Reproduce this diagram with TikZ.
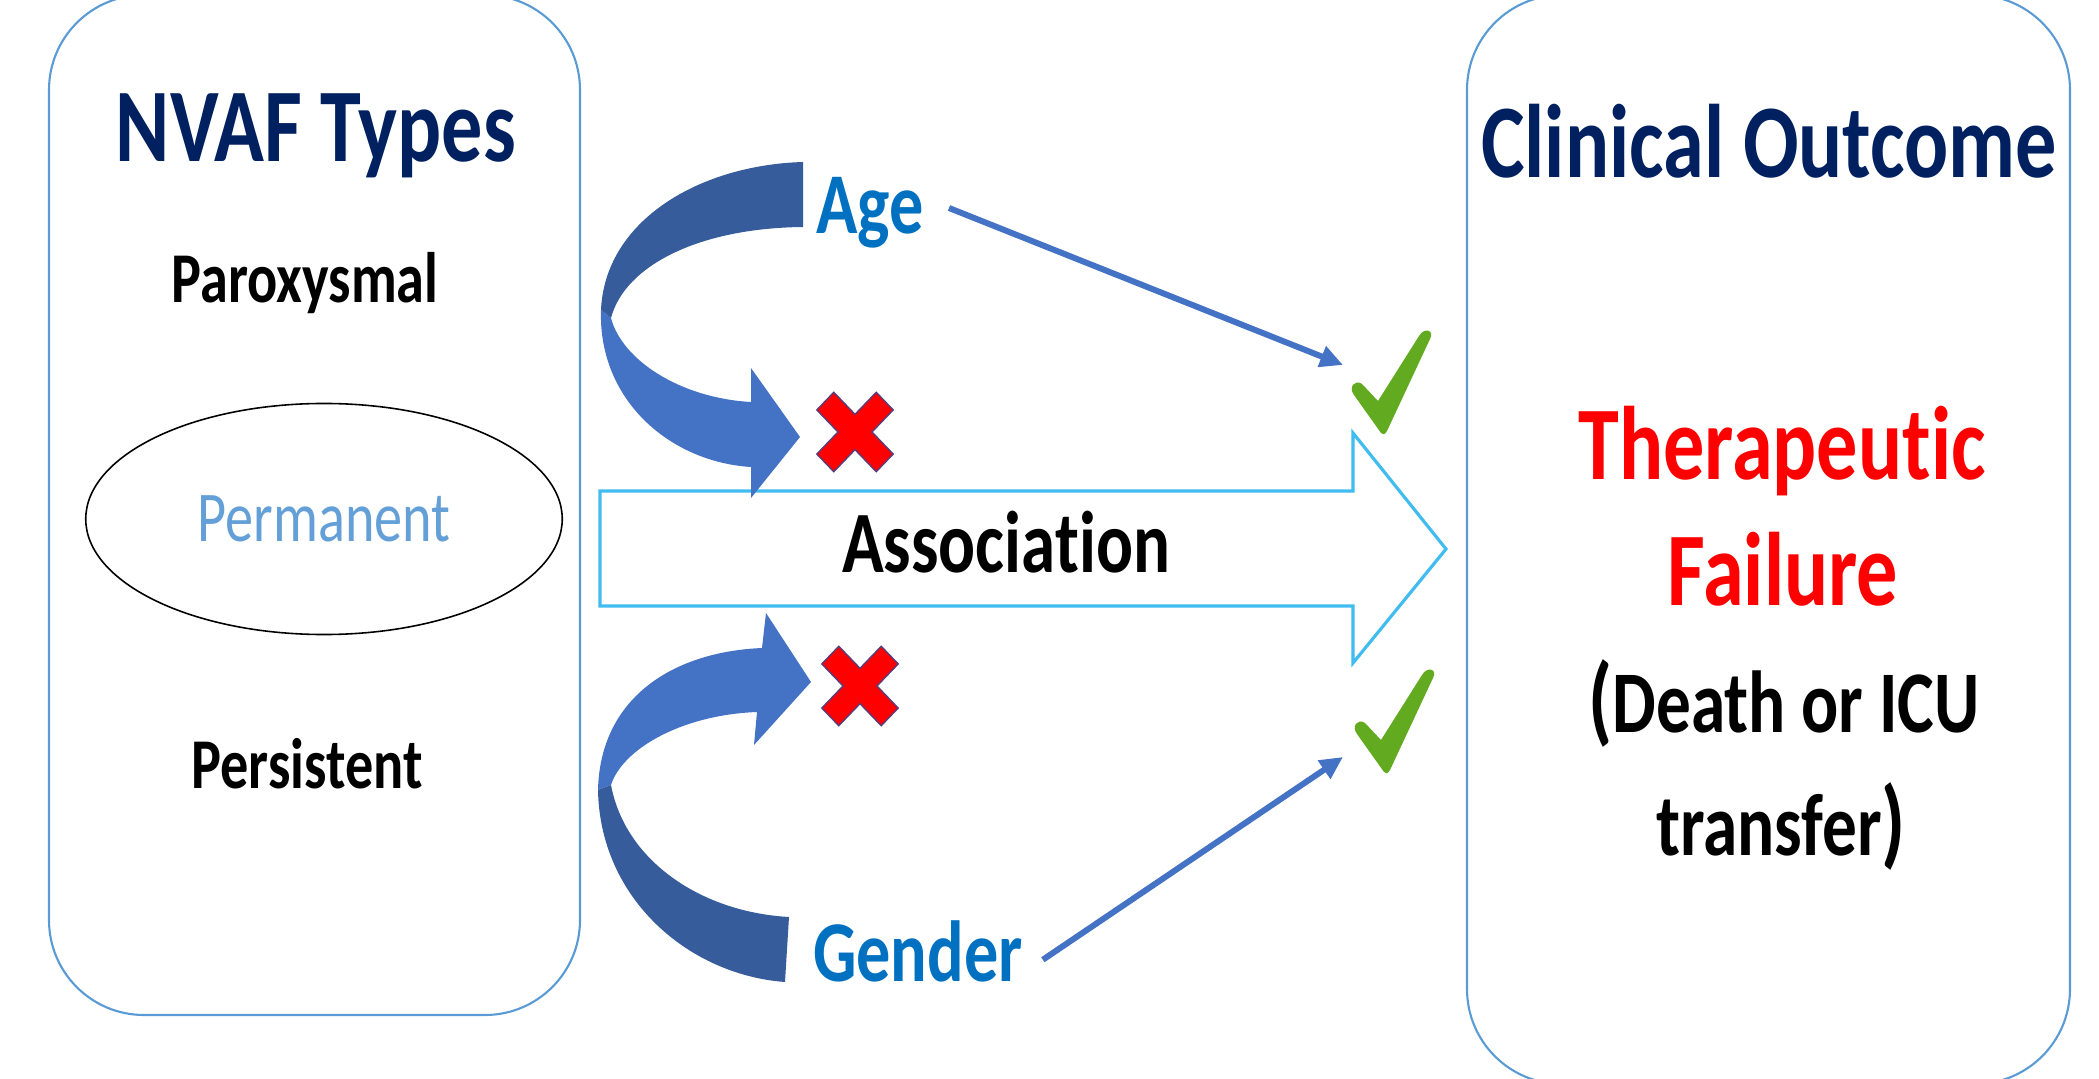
\documentclass[tikz,border=0pt]{standalone}
\usepackage{fontspec}
\setmainfont{Carlito}[Ligatures=NoCommon]
\usepackage{graphicx}
\usepackage{tikz}
\usetikzlibrary{arrows.meta,shapes.geometric}
\definecolor{navytitle}{RGB}{0,32,96}
\definecolor{panelblue}{RGB}{91,155,213}
\definecolor{factorblue}{RGB}{0,112,192}
\definecolor{linkblue}{RGB}{68,114,196}
\definecolor{bandfront}{RGB}{68,114,196}
\definecolor{bandback}{RGB}{54,92,156}
\definecolor{assocline}{RGB}{64,188,240}
\definecolor{tickgreen}{RGB}{98,170,32}
\definecolor{crossred}{RGB}{255,0,0}
\definecolor{crossedge}{RGB}{90,60,120}
\definecolor{fadeblue}{RGB}{100,160,215}
\tikzstyle{panel} = [draw=panelblue, line width=0.6pt, rounded corners=27pt]
\tikzstyle{title} = [anchor=base, inner sep=0pt, text=navytitle, font=\fontsize{23.4}{24}\selectfont\bfseries]
\tikzstyle{kind} = [anchor=base, inner sep=0pt, font=\fontsize{16}{17}\selectfont\bfseries]
\tikzstyle{ring} = [ellipse, draw=black, line width=0.45pt, minimum width=135.5pt, minimum height=65.7pt, inner sep=0pt, text=fadeblue, font=\fontsize{16}{17}\selectfont]
\tikzstyle{factor} = [anchor=base, inner sep=0pt, text=factorblue, font=\fontsize{19.4}{20}\selectfont\bfseries]
\tikzstyle{result} = [anchor=base, inner sep=0pt, text=crossred, font=\fontsize{23.4}{24}\selectfont\bfseries]
\tikzstyle{note} = [anchor=base, inner sep=0pt, font=\fontsize{19.7}{20}\selectfont\bfseries]
\tikzstyle{arrow} = [linkblue, line width=1.7pt, -{Triangle[length=6.5pt,width=6pt]}]
\newcommand{\tall}[1]{\scalebox{1}[1.27]{#1}}
\newcommand{\bigparen}[1]{{\fontsize{22}{22}\selectfont#1}}
\newcommand{\greentick}[1]{\fill[tickgreen, shift={#1}] (0,0) -- (-27,-38) .. controls (-33,-46) and (-26,-54) .. (-19,-49) -- (-3,-32) -- (38,-97) .. controls (43,-106) and (54,-103) .. (49,-94) -- (6,-2) .. controls (4,2) and (1,2) .. (0,0) -- cycle;}
\newcommand{\redcross}[1]{\filldraw[fill=crossred, draw=crossedge, line width=0.4pt, shift={#1}, yscale=1.04, rotate=45] (12,12) -- (42,12) -- (42,-12) -- (12,-12) -- (12,-42) -- (-12,-42) -- (-12,-12) -- (-42,-12) -- (-42,12) -- (-12,12) -- (-12,42) -- (12,42) -- cycle;}

\begin{document}
\begin{tikzpicture}[x=0.01cm, y=-0.01cm]
\useasboundingbox (0,0) rectangle (2099,1079);
% the two panels
\draw[panel] (49,-5) rectangle (580,1015);
\draw[panel] (1467,-5) rectangle (2070,1084);
% NVAF types
\node (nvaf) [title] at (316,162) {\tall{NVAF Types}};
\node (paroxysmal) [kind] at (305,303) {\tall{Paroxysmal}};
\node (permanent) [ring] at (324,519) {\tall{Permanent}};
\node (persistent) [kind] at (307,788) {\tall{Persistent}};
% clinical outcome
\node (outcome) [title] at (1769,178) {\tall{Clinical Outcome}};
\node (thera) [result] at (1782,479) {\tall{Therapeutic}};
\node (failure) [result] at (1783,605) {\tall{Failure}};
\node (death) [note] at (1784,732) {\tall{\bigparen{(}Death or ICU}};
\node (transfer) [note] at (1781,855) {\tall{transfer\bigparen{)}}};
% association arrow
\draw[assocline, line width=0.9pt, fill=white] (600,491) -- (1353,491) -- (1353,433) -- (1446,549) -- (1353,663) -- (1353,606) -- (600,606) -- cycle;
\node (assoc) [note, font=\fontsize{19.6}{20}\selectfont\bfseries] at (1006,572) {\tall{Association}};
% curved arrow above
\fill[bandback] (803,162) .. controls (700,165) and (605,220) .. (601,310) -- (611,318) .. controls (625,265) and (700,228) .. (803,227) -- cycle;
\fill[bandfront] (601,310) .. controls (598,400) and (670,462) .. (751,467) -- (751,498) -- (800,437) -- (751,368) -- (751,402) .. controls (680,398) and (622,360) .. (611,318) -- cycle;
% curved arrow below
\fill[bandfront] (598,790) .. controls (600,700) and (670,652) .. (762,648) -- (766,613) -- (811,682) -- (754,745) -- (757,712) .. controls (680,715) and (622,750) .. (611,785) -- cycle;
\fill[bandback] (598,790) .. controls (600,900) and (690,975) .. (785,982) -- (789,917) .. controls (700,912) and (625,860) .. (611,785) -- cycle;
% factors
\node (age) [factor] at (870,234) {\tall{Age}};
\node (gender) [factor] at (918,981) {\tall{Gender}};
\coordinate (agetip) at (1343,365);
\coordinate (gendertip) at (1343,757);
\draw[arrow] ([xshift=7pt,yshift=1.5pt]age.east) -- (agetip);
\draw[arrow] ([xshift=5.5pt,yshift=-2.5pt]gender.east) -- (gendertip);
% marks
\redcross{(855,432)}
\redcross{(860,686)}
\greentick{(1381,433)}
\greentick{(1384,772)}
\end{tikzpicture}
\end{document}
